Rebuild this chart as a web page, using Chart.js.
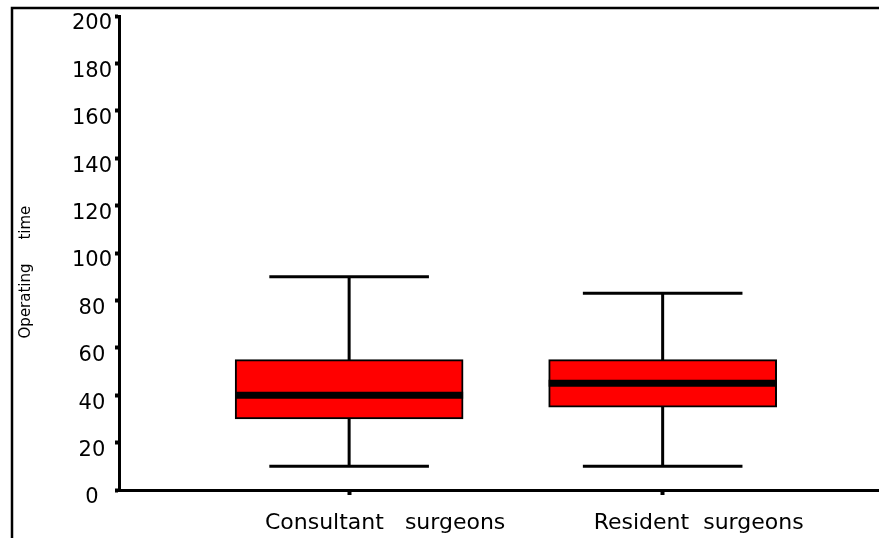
<!DOCTYPE html>
<html>
<head>
<meta charset="utf-8">
<title>Operating time</title>
<script src="https://cdn.jsdelivr.net/npm/chart.js@4.4.0/dist/chart.umd.min.js"></script>
<style>
    html, body { margin: 0; padding: 0; background: #fff; }
    canvas { display: block; }
</style>
</head>
<body>
<canvas id="boxChart" width="879" height="538"></canvas>
<script>
'use strict'

// Data
const categories = ['Consultant   surgeons', 'Resident  surgeons']
const positions = [1, 2]
const mins = [10, 10]
const q1 = [30, 35]
const medians = [40, 45]
const q3 = [55, 55]
const maxes = [90, 83]
const yTicks = [0, 20, 40, 60, 80, 100, 120, 140, 160, 180, 200]

// whiskers go behind the boxes, medians on top
const boxPlotExtras = {
    id: 'boxPlotExtras',
    beforeDatasetsDraw(chart) {
        const ctx = chart.ctx
        const y = chart.scales.y
        const meta = chart.getDatasetMeta(0)
        ctx.save()
        ctx.strokeStyle = '#000'
        ctx.lineWidth = 3
        meta.data.forEach(function (bar, i) {
            const half = bar.width * 0.35
            const yMax = y.getPixelForValue(maxes[i])
            const yMin = y.getPixelForValue(mins[i])
            ctx.beginPath()
            ctx.moveTo(bar.x, yMax)
            ctx.lineTo(bar.x, yMin)
            ctx.moveTo(bar.x - half, yMax)
            ctx.lineTo(bar.x + half, yMax)
            ctx.moveTo(bar.x - half, yMin)
            ctx.lineTo(bar.x + half, yMin)
            ctx.stroke()
        })
        ctx.restore()
    },
    afterDatasetsDraw(chart) {
        const ctx = chart.ctx
        const y = chart.scales.y
        const meta = chart.getDatasetMeta(0)
        ctx.save()
        ctx.strokeStyle = '#000'
        ctx.lineWidth = 7
        meta.data.forEach(function (bar, i) {
            const ym = y.getPixelForValue(medians[i])
            ctx.beginPath()
            ctx.moveTo(bar.x - bar.width / 2, ym)
            ctx.lineTo(bar.x + bar.width / 2, ym)
            ctx.stroke()
        })
        ctx.restore()
    },
    afterDraw(chart) {
        // outer frame, top and left only
        const ctx = chart.ctx
        ctx.save()
        ctx.strokeStyle = '#000'
        ctx.lineWidth = 2.5
        ctx.beginPath()
        ctx.moveTo(12, chart.height)
        ctx.lineTo(12, 8)
        ctx.lineTo(chart.width, 8)
        ctx.stroke()
        ctx.restore()
    }
}

const ctx = document.getElementById('boxChart')
// eslint-disable-next-line no-unused-vars
const myChart = new Chart(ctx, {
    type: 'bar',
    data: {
        datasets: [{
            data: positions.map(function (p, i) { return {x: p, y: [q1[i], q3[i]]} }),
            backgroundColor: '#ff0000',
            borderColor: '#000',
            borderWidth: 2,
            borderSkipped: false,
            barThickness: 228
        }]
    },
    options: {
        responsive: false,
        animation: false,
        layout: {
            padding: {top: 16, left: 17, right: 0, bottom: 0}
        },
        plugins: {
            legend: {display: false},
            tooltip: {enabled: false}
        },
        scales: {
            x: {
                type: 'linear',
                offset: false,
                min: 0.266,
                max: 2.69,
                afterBuildTicks: function (scale) {
                    scale.ticks = positions.map(function (p) { return {value: p} })
                },
                afterFit: function (scale) {
                    scale.height = 48
                },
                grid: {
                    offset: false,
                    drawOnChartArea: false,
                    color: '#000',
                    tickLength: 5,
                    tickWidth: 4
                },
                border: {color: '#000', width: 3},
                ticks: {
                    callback: function (v) { return categories[positions.indexOf(v)] },
                    color: '#000',
                    font: {family: 'DejaVu Sans', size: 22},
                    padding: 15,
                    labelOffset: 36,
                    maxRotation: 0,
                    autoSkip: false
                }
            },
            y: {
                min: 0,
                max: 200,
                afterBuildTicks: function (scale) {
                    scale.ticks = yTicks.map(function (v) { return {value: v} })
                },
                afterFit: function (scale) {
                    scale.width = 102
                },
                grid: {
                    drawOnChartArea: false,
                    color: '#000',
                    tickLength: 4,
                    tickWidth: 4
                },
                border: {color: '#000', width: 3},
                ticks: {
                    color: '#000',
                    font: {family: 'DejaVu Sans', size: 21},
                    padding: 3,
                    crossAlign: 'center',
                    labelOffset: 8
                },
                title: {
                    display: true,
                    text: 'Operating     time        ',
                    color: '#000',
                    font: {family: 'DejaVu Sans', size: 15},
                    padding: {top: 0, bottom: 0}
                }
            }
        }
    },
    plugins: [boxPlotExtras]
})
</script>
</body>
</html>
